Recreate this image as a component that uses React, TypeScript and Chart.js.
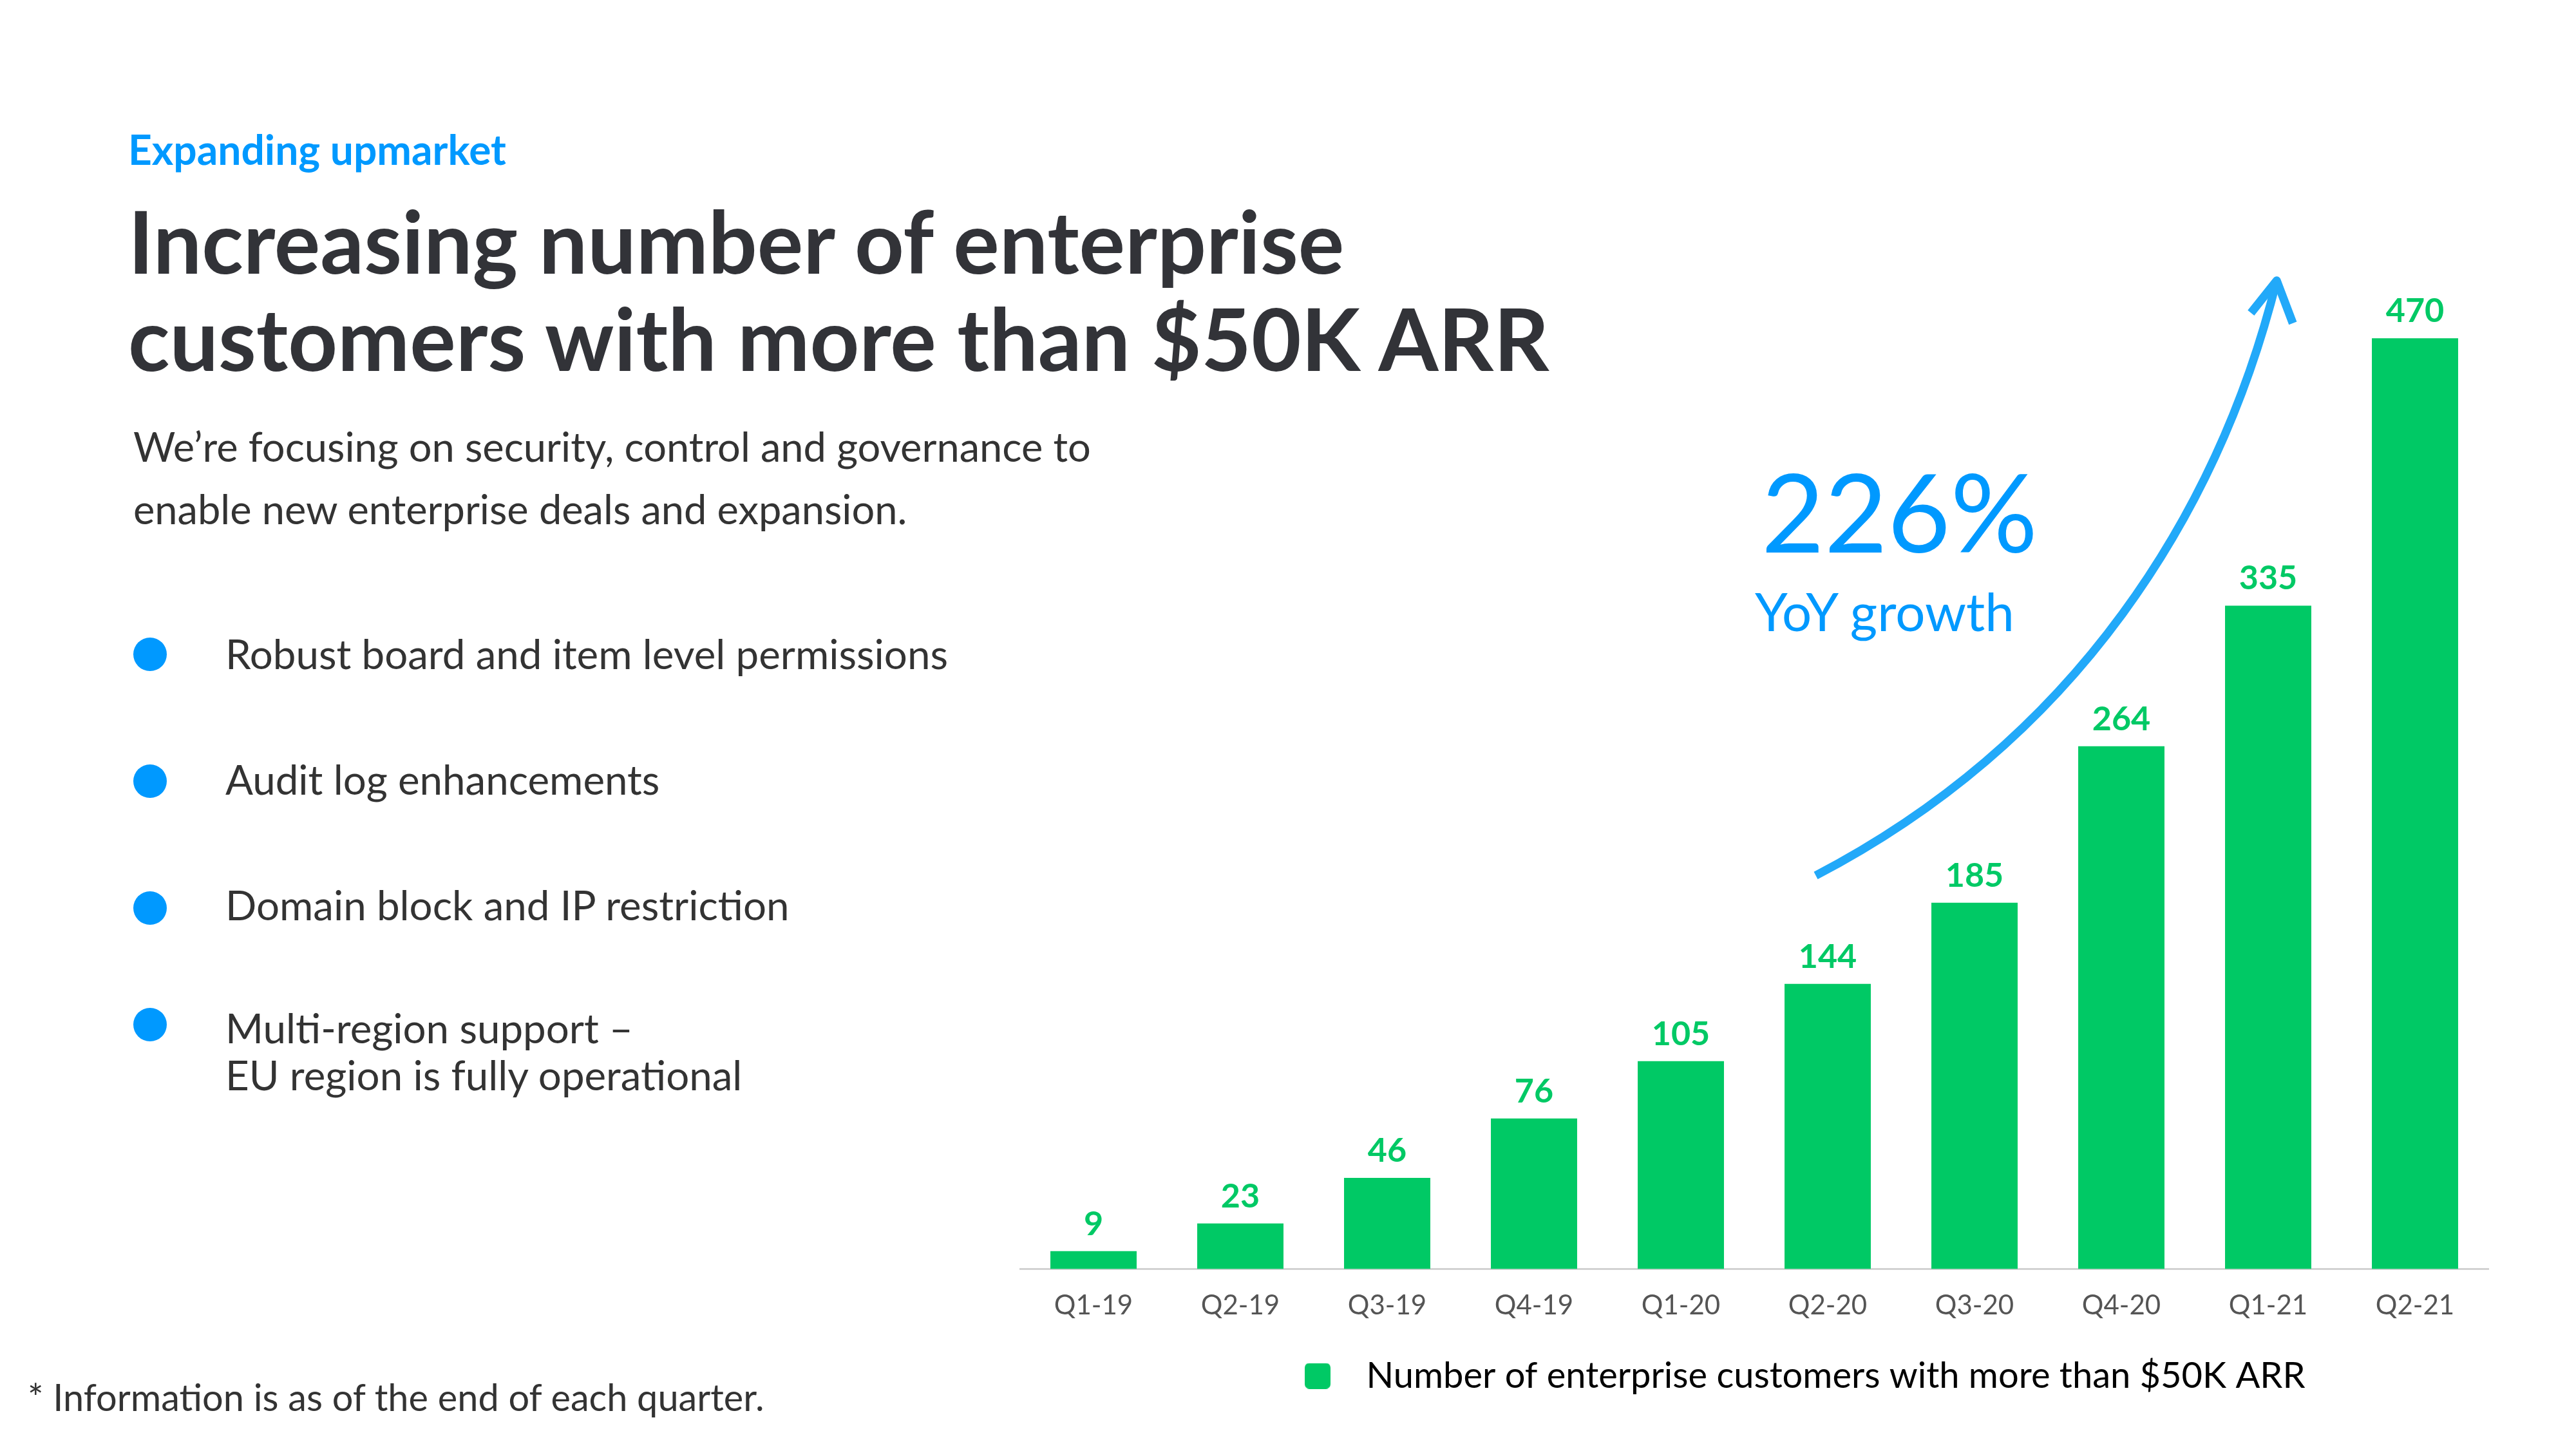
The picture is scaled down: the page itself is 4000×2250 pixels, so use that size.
import React, { useEffect, useMemo, useRef } from 'react';
import { Chart, registerables } from 'chart.js';

Chart.register(...registerables);

// ---------- data ----------
const quarters = ['Q1-19', 'Q2-19', 'Q3-19', 'Q4-19', 'Q1-20', 'Q2-20', 'Q3-20', 'Q4-20', 'Q1-21', 'Q2-21'];
const enterpriseCustomers = [9, 23, 46, 76, 105, 144, 185, 264, 335, 470];
const seriesLabel = 'Number of enterprise customers with more than $50K ARR';
const yAxisMax = 500;

// growth arrow annotation: cubic Bezier control points in data units (category index, value)
const arrowCurveX = [4.919, 6.699, 7.663, 8.058];
const arrowCurveY = [198.7, 267.6, 382.1, 499.1];
const arrowHeadX = [7.883, 8.058, 8.168];
const arrowHeadY = [482.8, 499.1, 477.6];

// ---------- text ----------
const kicker = 'Expanding upmarket';
const titleLines = ['Increasing number of enterprise', 'customers with more than $50K ARR'];
const subtitleLines = ['We’re focusing on security, control and governance to', 'enable new enterprise deals and expansion.'];
const bulletItems = [
  ['Robust board and item level permissions'],
  ['Audit log enhancements'],
  ['Domain block and IP restriction'],
  ['Multi-region support –', 'EU region is fully operational'],
];
const growthValue = '226%';
const growthLabel = 'YoY growth';
const footnote = '* Information is as of the end of each quarter.';

// ---------- styles ----------
const GREEN = '#00c965';
const BLUE = '#0099ff';
const ARROW_BLUE = '#22a9f9';
const DARK = '#323338';
const BODY = '#333333';
const GREY = '#555555';
const FONT = 'Lato, "Open Sans", sans-serif';

function widthPerPx(text: string, weight: number): number {
  const c = document.createElement('canvas').getContext('2d')!;
  c.font = `${weight} 100px Lato`;
  return c.measureText(text).width / 100;
}
function fit(text: string, weight: number, target: number): number {
  return target / widthPerPx(text, weight);
}

function Line(props: { text: string; left: number; baseline: number; size: number; weight: number; color: string }) {
  const { text, left, baseline, size, weight, color } = props;
  return (
    <div
      style={{
        position: 'absolute',
        left,
        top: baseline - 0.387 * size,
        fontSize: size,
        lineHeight: 0,
        fontWeight: weight,
        color,
        fontFamily: FONT,
        whiteSpace: 'nowrap',
      }}
    >
      {text}
    </div>
  );
}

const valueLabels = {
  id: 'valueLabels',
  afterDatasetsDraw(chart: any) {
    const { ctx } = chart;
    const meta = chart.getDatasetMeta(0);
    ctx.save();
    ctx.font = `700 52px ${FONT}`;
    ctx.fillStyle = GREEN;
    ctx.textAlign = 'center';
    ctx.textBaseline = 'alphabetic';
    meta.data.forEach((bar: any, i: number) => {
      ctx.fillText(String(enterpriseCustomers[i]), bar.x, bar.y - 25);
    });
    ctx.restore();
  },
};

const growthArrow = {
  id: 'growthArrow',
  afterDatasetsDraw(chart: any) {
    const { ctx } = chart;
    const xs = chart.scales.x;
    const ys = chart.scales.y;
    const c = arrowCurveX.map((x, i) => [xs.getPixelForValue(x), ys.getPixelForValue(arrowCurveY[i])]);
    ctx.save();
    ctx.strokeStyle = ARROW_BLUE;
    ctx.lineWidth = 13;
    ctx.lineCap = 'butt';
    ctx.lineJoin = 'round';
    ctx.beginPath();
    ctx.moveTo(c[0][0], c[0][1]);
    ctx.bezierCurveTo(c[1][0], c[1][1], c[2][0], c[2][1], c[3][0], c[3][1]);
    ctx.stroke();
    const head = arrowHeadX.map((x, i) => [xs.getPixelForValue(x), ys.getPixelForValue(arrowHeadY[i])]);
    ctx.beginPath();
    ctx.moveTo(head[0][0], head[0][1]);
    ctx.lineTo(head[1][0], head[1][1]);
    ctx.lineTo(head[2][0], head[2][1]);
    ctx.stroke();
    ctx.restore();
  },
};

export default function App() {
  const canvasRef = useRef<HTMLCanvasElement>(null);

  const sizes = useMemo(
    () => ({
      kicker: fit(kicker, 700, 587),
      title: fit(titleLines[1], 700, 2214),
      subtitle: fit(subtitleLines[0], 400, 1487),
      bullets: fit(bulletItems[0][0], 400, 1122),
      growth: fit(growthValue, 400, 429),
      growthLabel: fit(growthLabel, 400, 406),
      footnote: fit(footnote, 400, 1146),
    }),
    []
  );

  useEffect(() => {
    document.body.style.margin = '0';
    const canvas = canvasRef.current!;
    const marker = document.createElement('canvas');
    marker.width = 68;
    marker.height = 40;
    const m = marker.getContext('2d')!;
    m.fillStyle = GREEN;
    m.beginPath();
    (m as any).roundRect(0, 0, 40, 40, 7);
    m.fill();

    const chart = new Chart(canvas, {
      type: 'bar',
      data: {
        labels: quarters,
        datasets: [
          {
            label: seriesLabel,
            data: enterpriseCustomers,
            backgroundColor: GREEN,
            barPercentage: 0.5875,
            categoryPercentage: 1,
          },
        ],
      },
      options: {
        responsive: false,
        animation: false,
        devicePixelRatio: 1,
        layout: { padding: { top: 133, left: 84, right: 0, bottom: 75.5 } },
        plugins: {
          legend: {
            position: 'bottom',
            labels: {
              usePointStyle: true,
              pointStyleWidth: 67,
              boxHeight: 40,
              padding: 30,
              color: GREY,
              font: { family: FONT, size: 56 },
              generateLabels: () => [
                {
                  text: seriesLabel,
                  fillStyle: GREEN,
                  strokeStyle: GREEN,
                  lineWidth: 0,
                  pointStyle: marker as any,
                  hidden: false,
                  datasetIndex: 0,
                },
              ],
            },
          },
          tooltip: { enabled: false },
        },
        scales: {
          x: {
            grid: { display: false, drawTicks: false },
            border: { display: true, color: '#d2d2d2', width: 3 },
            ticks: { color: GREY, font: { family: FONT, size: 42 }, padding: 32 },
            afterFit: (s: any) => {
              s.height = 108;
            },
          },
          y: {
            position: 'right',
            min: 0,
            max: yAxisMax,
            grid: { display: false, drawTicks: false },
            border: { display: false },
            ticks: { display: false },
            afterFit: (s: any) => {
              s.width = 158;
            },
          },
        },
      } as any,
      plugins: [valueLabels, growthArrow],
    });
    return () => chart.destroy();
  }, []);

  const bulletBaselines = [[1040], [1235], [1430], [1621, 1694]];
  const bulletCenters = [1016, 1213, 1410, 1591];

  return (
    <div
      style={{
        position: 'absolute',
        left: 0,
        top: 0,
        width: 4000,
        height: 2250,
        overflow: 'hidden',
        background: '#ffffff',
      }}
    >
      <Line text={kicker} left={199} baseline={257} size={sizes.kicker} weight={700} color={BLUE} />
      {titleLines.map((t, i) => (
        <Line key={t} text={t} left={199} baseline={[426, 577][i]} size={sizes.title} weight={700} color={DARK} />
      ))}
      {subtitleLines.map((t, i) => (
        <Line key={t} text={t} left={207} baseline={[717, 814][i]} size={sizes.subtitle} weight={400} color={BODY} />
      ))}
      {bulletItems.map((lines, i) => (
        <React.Fragment key={i}>
          <div
            style={{
              position: 'absolute',
              left: 233 - 26,
              top: bulletCenters[i] - 26,
              width: 52,
              height: 52,
              borderRadius: '50%',
              background: BLUE,
            }}
          />
          {lines.map((t, j) => (
            <Line key={t} text={t} left={350} baseline={bulletBaselines[i][j]} size={sizes.bullets} weight={400} color={BODY} />
          ))}
        </React.Fragment>
      ))}
      <Line text={footnote} left={43} baseline={2191} size={sizes.footnote} weight={400} color={BODY} />
      <canvas
        ref={canvasRef}
        width={2522}
        height={1950}
        style={{ position: 'absolute', left: 1500, top: 300, width: 2522, height: 1950 }}
      />
      <Line text={growthValue} left={2735} baseline={858} size={sizes.growth} weight={400} color={BLUE} />
      <Line text={growthLabel} left={2725} baseline={980} size={sizes.growthLabel} weight={400} color={BLUE} />
    </div>
  );
}
